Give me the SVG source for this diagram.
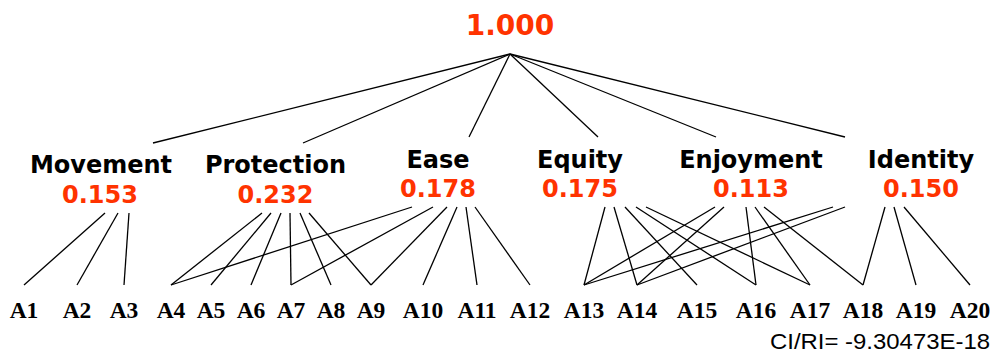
<svg xmlns="http://www.w3.org/2000/svg" width="994" height="354" viewBox="0 0 994 354">
<style>
.crit{font-family:"DejaVu Sans",Verdana,sans-serif;font-weight:bold;font-size:24px;fill:#000;text-anchor:middle}
.w{font-family:"DejaVu Sans",Verdana,sans-serif;font-weight:bold;font-size:24px;fill:#ff3300;text-anchor:middle}
.root{font-size:28px}
.leaf{font-family:"Liberation Serif","Times New Roman",serif;font-weight:bold;font-size:23.5px;fill:#000;text-anchor:middle}
.ci{font-family:"Liberation Sans",Arial,sans-serif;font-size:22px;fill:#000}
#connectors line{stroke:#000;stroke-width:1.3}
</style>
<rect width="994" height="354" fill="#fff"/>
<g id="connectors">
<line x1="510" y1="54" x2="153" y2="143"/>
<line x1="510" y1="54" x2="303" y2="143"/>
<line x1="510" y1="54" x2="469" y2="137"/>
<line x1="510" y1="54" x2="598" y2="137"/>
<line x1="510" y1="54" x2="716" y2="137"/>
<line x1="510" y1="54" x2="845" y2="137"/>
<line x1="105" y1="213" x2="24" y2="285"/>
<line x1="118" y1="213" x2="77" y2="285"/>
<line x1="129" y1="213" x2="124" y2="285"/>
<line x1="262" y1="213" x2="171" y2="285"/>
<line x1="271" y1="213" x2="211" y2="285"/>
<line x1="281" y1="213" x2="251" y2="285"/>
<line x1="290" y1="213" x2="291" y2="285"/>
<line x1="300" y1="213" x2="331" y2="285"/>
<line x1="309" y1="213" x2="371" y2="285"/>
<line x1="412" y1="207" x2="171" y2="285"/>
<line x1="433" y1="207" x2="291" y2="285"/>
<line x1="447" y1="207" x2="371" y2="285"/>
<line x1="457" y1="207" x2="423" y2="285"/>
<line x1="466" y1="207" x2="477" y2="285"/>
<line x1="475" y1="207" x2="530" y2="285"/>
<line x1="605" y1="207" x2="584" y2="285"/>
<line x1="614" y1="207" x2="637" y2="285"/>
<line x1="625" y1="207" x2="697" y2="285"/>
<line x1="636" y1="207" x2="756" y2="285"/>
<line x1="646" y1="207" x2="810" y2="285"/>
<line x1="715" y1="207" x2="584" y2="285"/>
<line x1="724" y1="207" x2="637" y2="285"/>
<line x1="746" y1="207" x2="756" y2="285"/>
<line x1="755" y1="207" x2="810" y2="285"/>
<line x1="764" y1="207" x2="863" y2="285"/>
<line x1="833" y1="207" x2="584" y2="285"/>
<line x1="845" y1="207" x2="637" y2="285"/>
<line x1="885" y1="207" x2="863" y2="285"/>
<line x1="894" y1="207" x2="916" y2="285"/>
<line x1="904" y1="207" x2="970" y2="285"/>
</g>
<g id="goal"><text class="w root" x="510" y="35">1.000</text></g>
<g id="movement"><text class="crit" x="101" y="173">Movement</text><text class="w" x="100" y="203">0.153</text></g>
<g id="protection"><text class="crit" x="275.5" y="173">Protection</text><text class="w" x="275.5" y="203">0.232</text></g>
<g id="ease"><text class="crit" x="438" y="168">Ease</text><text class="w" x="438" y="197">0.178</text></g>
<g id="equity"><text class="crit" x="580" y="168">Equity</text><text class="w" x="580" y="197">0.175</text></g>
<g id="enjoyment"><text class="crit" x="751" y="168">Enjoyment</text><text class="w" x="751" y="197">0.113</text></g>
<g id="identity"><text class="crit" x="921" y="168">Identity</text><text class="w" x="921" y="197">0.150</text></g>
<g id="A1"><text class="leaf" x="24" y="318">A1</text></g>
<g id="A2"><text class="leaf" x="77" y="318">A2</text></g>
<g id="A3"><text class="leaf" x="124" y="318">A3</text></g>
<g id="A4"><text class="leaf" x="171" y="318">A4</text></g>
<g id="A5"><text class="leaf" x="211" y="318">A5</text></g>
<g id="A6"><text class="leaf" x="251" y="318">A6</text></g>
<g id="A7"><text class="leaf" x="291" y="318">A7</text></g>
<g id="A8"><text class="leaf" x="331" y="318">A8</text></g>
<g id="A9"><text class="leaf" x="371" y="318">A9</text></g>
<g id="A10"><text class="leaf" x="423" y="318">A10</text></g>
<g id="A11"><text class="leaf" x="477" y="318">A11</text></g>
<g id="A12"><text class="leaf" x="530" y="318">A12</text></g>
<g id="A13"><text class="leaf" x="584" y="318">A13</text></g>
<g id="A14"><text class="leaf" x="637" y="318">A14</text></g>
<g id="A15"><text class="leaf" x="697" y="318">A15</text></g>
<g id="A16"><text class="leaf" x="756" y="318">A16</text></g>
<g id="A17"><text class="leaf" x="810" y="318">A17</text></g>
<g id="A18"><text class="leaf" x="863" y="318">A18</text></g>
<g id="A19"><text class="leaf" x="916" y="318">A19</text></g>
<g id="A20"><text class="leaf" x="970" y="318">A20</text></g>
<g id="ci"><text class="ci" x="770" y="349" textLength="220" lengthAdjust="spacingAndGlyphs">CI/RI= -9.30473E-18</text></g>
</svg>
